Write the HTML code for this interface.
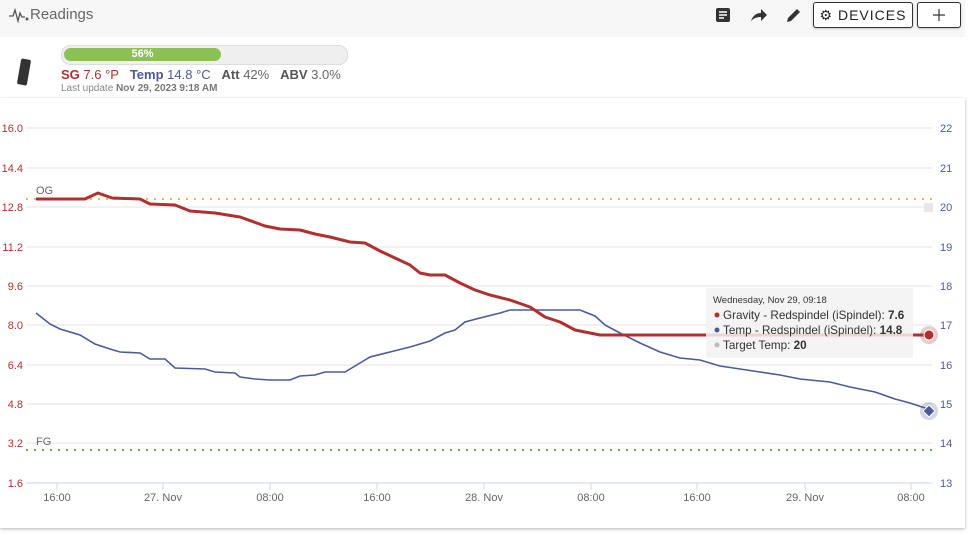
<!DOCTYPE html>
<html><head><meta charset="utf-8"><style>
body{margin:0;width:975px;height:535px;background:#fff;font-family:"Liberation Sans",sans-serif;position:relative;overflow:hidden}
.hdr{position:absolute;left:0;top:0;width:965px;height:37px;background:#f7f7f7}
.t{position:absolute;white-space:nowrap}
.btn{position:absolute;border:1px solid #333;border-radius:3px;background:#fff;box-shadow:0 1px 2px rgba(0,0,0,.2);font-size:14px;letter-spacing:1px;color:#222}
</style></head><body>
<div class="hdr"></div>
<svg class="t" style="left:8px;top:7px" width="22" height="16"><path d="M1 9h4l2-6 3 11 2-8 2 4h3" stroke="#555" fill="none" stroke-width="1.3"/><circle cx="19" cy="12" r="1.5" fill="#555"/></svg>
<div class="t" style="left:30px;top:6px;font-size:15px;color:#666">Readings</div>
<svg class="t" style="left:715px;top:7px" width="16" height="16"><rect x="1" y="1" width="14" height="14" rx="2" fill="#333"/><path d="M4 5h8M4 8h8M4 11h5" stroke="#fff" stroke-width="1.5"/></svg>
<svg class="t" style="left:750px;top:8px" width="18" height="14"><path d="M1 13C3 7 7 5 11 5V1l6 6-6 6V9C7 9 4 10 1 13z" fill="#333"/></svg>
<svg class="t" style="left:785px;top:6px" width="18" height="18"><path d="M2 16l1-4 9-9 3 3-9 9z" fill="#333"/></svg>
<div class="btn" style="left:813px;top:2px;width:98px;height:24px;line-height:24px;text-align:center">&#9881; DEVICES</div>
<div class="btn" style="left:917px;top:2px;width:42px;height:24px"><svg width="42" height="24"><path d="M15 12h12M21 6v12" stroke="#333" stroke-width="1.2"/></svg></div>
<div class="t" style="left:61px;top:45px;width:285px;height:18px;border:1px solid #ddd;border-radius:9px;background:#efefef"></div>
<div class="t" style="left:64px;top:48px;width:157px;height:13px;border-radius:7px;background:#8bc057;color:#fff;font-size:11px;font-weight:bold;text-align:center;line-height:13px">56%</div>
<div class="t" style="left:19px;top:59px;width:10px;height:26px;background:#333;border-radius:2px;transform:rotate(10deg)"></div>
<div class="t" style="left:61px;top:67px;font-size:13px"><b style="color:#b03030">SG</b> <span style="color:#b03030">7.6 °P</span>&nbsp;&nbsp; <b style="color:#4d5a99">Temp</b> <span style="color:#4d5a99">14.8 °C</span>&nbsp;&nbsp; <b style="color:#555">Att</b> <span style="color:#666">42%</span>&nbsp;&nbsp; <b style="color:#555">ABV</b> <span style="color:#666">3.0%</span></div>
<div class="t" style="left:61px;top:83px;font-size:10px;color:#888">Last update <b style="color:#777">Nov 29, 2023 9:18 AM</b></div>
<div class="t" style="left:0;top:98px;width:965px;height:430px;box-shadow:0 1px 3px rgba(0,0,0,.3);background:#fff"></div>
<svg class="t" style="left:0;top:0" width="975" height="535" font-family="Liberation Sans" font-size="11">
<g stroke="#e3e3e3"><path d="M26 128H932M26 168H932M26 207H932M26 247H932M26 286H932M26 325H932M26 365H932M26 404H932M26 443H932"/></g>
<path d="M26 483H932" stroke="#c8d4ec"/>
<g stroke="#c8d4ec"><path d="M57 483v7M163 483v7M270 483v7M377 483v7M484 483v7M591 483v7M697 483v7M805 483v7M911 483v7"/></g>
<g fill="#666" text-anchor="middle"><text x="57" y="501">16:00</text><text x="163" y="501">27. Nov</text><text x="270" y="501">08:00</text><text x="377" y="501">16:00</text><text x="484" y="501">28. Nov</text><text x="591" y="501">08:00</text><text x="697" y="501">16:00</text><text x="805" y="501">29. Nov</text><text x="911" y="501">08:00</text></g>
<g fill="#b03030" text-anchor="end"><text x="23" y="132">16.0</text><text x="23" y="172">14.4</text><text x="23" y="211">12.8</text><text x="23" y="251">11.2</text><text x="23" y="290">9.6</text><text x="23" y="329">8.0</text><text x="23" y="369">6.4</text><text x="23" y="408">4.8</text><text x="23" y="447">3.2</text><text x="23" y="487">1.6</text></g>
<g fill="#4d5a99"><text x="940" y="132">22</text><text x="940" y="172">21</text><text x="940" y="211">20</text><text x="940" y="251">19</text><text x="940" y="290">18</text><text x="940" y="329">17</text><text x="940" y="369">16</text><text x="940" y="408">15</text><text x="940" y="447">14</text><text x="940" y="487">13</text></g>
<path d="M26 199H932" stroke="#e8c040" stroke-width="2" stroke-dasharray="2 6"/>
<path d="M26 450H932" stroke="#6ab04c" stroke-width="2" stroke-dasharray="2 6"/>
<text x="36" y="194" fill="#666">OG</text><text x="36" y="445" fill="#666">FG</text>
<rect x="924" y="203" width="9" height="9" fill="#e8e8e8"/>
<polyline fill="none" stroke="#4d5a99" stroke-width="1.6" points="36,313 50,324 60,329 80,335 95,344 110,349 120,352 140,353 150,359 165,359 175,368 205,369 215,372 235,373 240,377 255,379 270,380 290,380 300,376 315,375 325,372 345,372 360,363 370,357 390,352 410,347 430,341 445,333 455,330 465,322 480,318 500,313 510,310 580,310 595,316 605,325 620,333 640,343 660,352 680,358 700,360 720,366 740,369 760,372 780,375 800,379 830,382 850,387 875,392 895,399 910,403 925,408 930,410"/>
<polyline fill="none" stroke="#b03030" stroke-width="3" stroke-linejoin="round" points="36,199 85,199 98,193 112,198 140,199 150,204 175,205 190,211 215,213 240,217 265,226 280,229 300,230 315,234 330,237 350,242 365,243 380,251 395,258 410,265 420,273 430,275 445,275 460,283 475,290 490,295 510,300 530,307 545,317 560,322 575,330 600,335 930,335"/>
<rect x="706" y="288" width="207" height="70" fill="#f2f2f2" fill-opacity=".85"/>
<text x="713" y="303" font-size="9.5" fill="#333">Wednesday, Nov 29, 09:18</text>
<g font-size="11.7" fill="#333"><circle cx="717" cy="315" r="2.5" fill="#b03030"/><text x="723" y="319">Gravity - Redspindel (iSpindel): <tspan font-weight="bold">7.6</tspan></text>
<circle cx="717" cy="330" r="2.5" fill="#4d5a99"/><text x="723" y="334">Temp - Redspindel (iSpindel): <tspan font-weight="bold">14.8</tspan></text>
<circle cx="717" cy="345" r="2.5" fill="#bbb"/><text x="723" y="349">Target Temp: <tspan font-weight="bold">20</tspan></text></g>
<circle cx="929" cy="335" r="9" fill="#b03030" fill-opacity=".25"/><circle cx="929" cy="335" r="5" fill="#b03030" stroke="#fff"/>
<circle cx="929" cy="411" r="9" fill="#4d5a99" fill-opacity=".25"/><path d="M929 405l6 6-6 6-6-6z" fill="#4d5a99" stroke="#fff"/>
</svg>
</body></html>
